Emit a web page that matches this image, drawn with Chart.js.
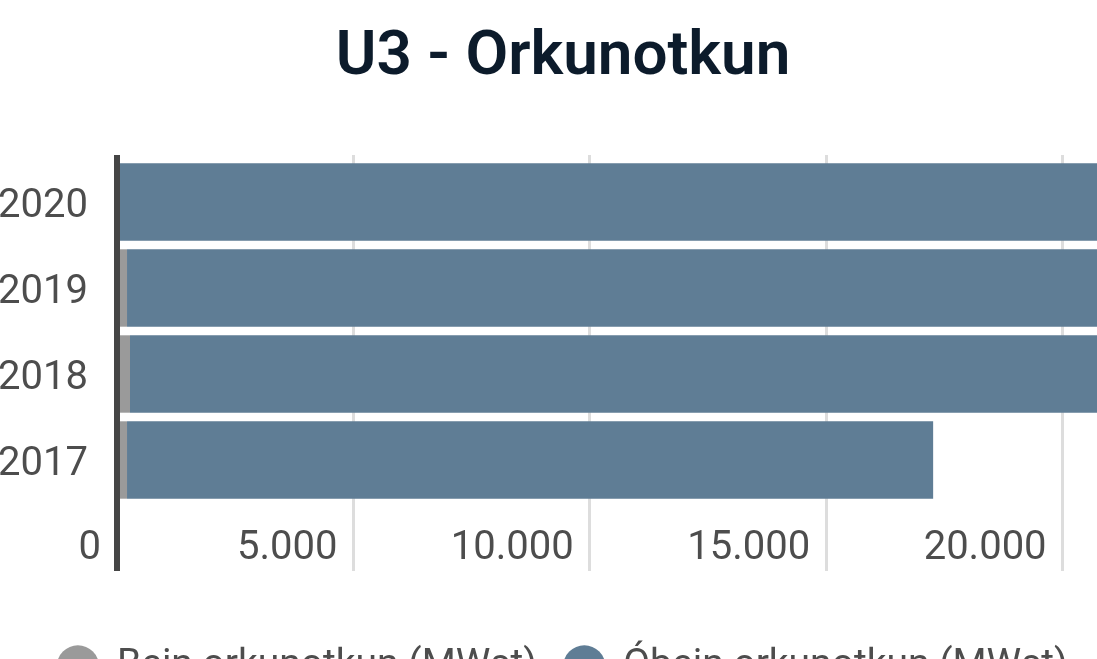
<!DOCTYPE html>
<html>
<head>
<meta charset="utf-8">
<script src="https://cdn.jsdelivr.net/npm/chart.js@4/dist/chart.umd.min.js"></script>
<style>
  html, body { margin: 0; padding: 0; overflow: hidden; background: #ffffff; }
  body { width: 1097px; height: 659px; position: relative; }
  #c { position: absolute; left: -173px; top: 0; }
</style>
</head>
<body>
<canvas id="c" width="1472" height="696"></canvas>
<script>
const titleText = 'U3 - Orkunotkun';
const categories = ['2020', '2019', '2018', '2017'];
const seriesNames = ['Bein orkunotkun (MWst)', 'Óbein orkunotkun (MWst)'];
const beinValues = [0, 212, 275, 212];
const obeinValues = [21700, 22600, 23300, 17050];
const tickStep = 5000;

const totals = categories.map((_, i) => beinValues[i] + obeinValues[i]);
const xMax = Math.ceil(Math.max(...totals) / tickStep) * tickStep;

function fmt(v) {
  return String(Math.round(v)).replace(/\B(?=(\d{3})+(?!\d))/g, '.');
}
const gridColor = ctx => (ctx.tick && ctx.tick.value === 0) ? '#454545' : '#dddddd';
const gridWidth = ctx => (ctx.tick && ctx.tick.value === 0) ? 6 : 3;

const font = 'Roboto, "Noto Sans", sans-serif';

new Chart(document.getElementById('c'), {
  type: 'bar',
  data: {
    labels: categories,
    datasets: [
      { label: seriesNames[0], data: beinValues, backgroundColor: '#9a9a9a', borderWidth: 0 },
      { label: seriesNames[1], data: obeinValues, backgroundColor: '#5f7d95', borderWidth: 0 }
    ]
  },
  options: {
    indexAxis: 'y',
    responsive: false,
    animation: false,
    devicePixelRatio: 1,
    layout: { padding: 0 },
    datasets: { bar: { barPercentage: 0.9, categoryPercentage: 1.0 } },
    scales: {
      x: {
        type: 'linear',
        position: 'bottom',
        stacked: true,
        min: 0,
        max: xMax,
        border: { display: false },
        grid: { color: gridColor, lineWidth: gridWidth, drawTicks: true, tickLength: 68 },
        ticks: {
          stepSize: tickStep,
          align: 'end',
          labelOffset: -16,
          padding: -46,
          color: '#4d4d4d',
          font: { family: font, size: 40 },
          maxRotation: 0,
          autoSkip: false,
          callback: v => fmt(v)
        },
        afterFit: s => { s.height = 116; }
      },
      x2: {
        type: 'linear',
        position: 'top',
        min: 0,
        max: xMax,
        border: { display: false },
        grid: { color: gridColor, lineWidth: gridWidth, drawOnChartArea: false, drawTicks: true, tickLength: 4 },
        ticks: { stepSize: tickStep, display: false },
        afterFit: s => { s.height = 4; }
      },
      y: {
        stacked: true,
        border: { display: true, color: '#454545', width: 6, z: 1 },
        grid: { display: false, drawTicks: false },
        ticks: {
          padding: 29,
          labelOffset: 5,
          color: '#4d4d4d',
          font: { family: font, size: 40 }
        },
        afterFit: s => { s.width = 290; }
      }
    },
    plugins: {
      title: {
        display: true,
        text: titleText,
        color: '#0c1b2b',
        font: { family: font, size: 62, weight: '600' },
        padding: { top: 21, bottom: 59.6 }
      },
      legend: {
        display: true,
        position: 'bottom',
        labels: {
          usePointStyle: true,
          pointStyle: 'circle',
          boxHeight: 30,
          padding: 28,
          color: '#4d4d4d',
          font: { family: font, size: 39 }
        }
      },
      tooltip: { enabled: false }
    }
  }
});
</script>
</body>
</html>
